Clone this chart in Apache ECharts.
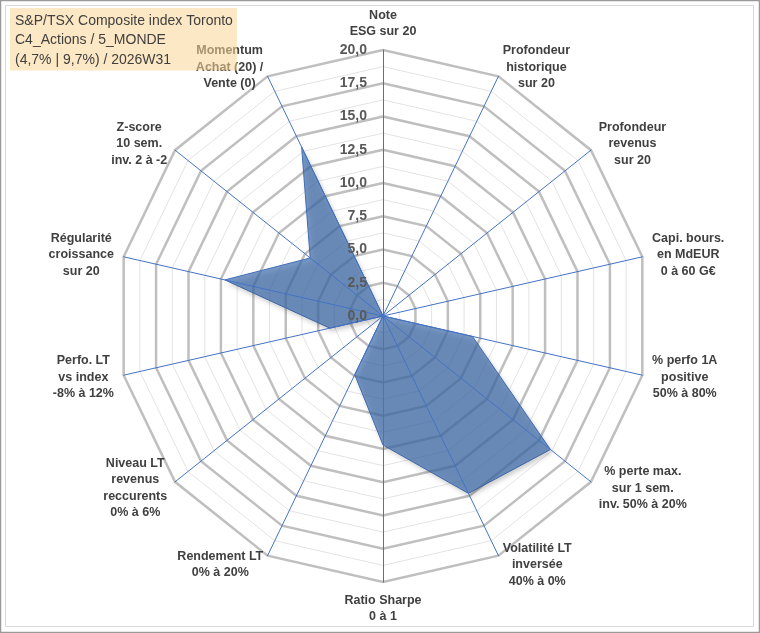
<!DOCTYPE html>
<html>
<head>
<meta charset="utf-8">
<script src="https://cdn.jsdelivr.net/npm/echarts@6/dist/echarts.min.js"></script>
<style>
  html, body { margin: 0; padding: 0; background: #fff; }
  #chart { width: 760px; height: 633px; }
</style>
</head>
<body>
<div id="chart"></div>
<script>
// axes listed clockwise starting from the top
const axisNames = [
    'Note\nESG sur 20',
    'Profondeur\nhistorique\nsur 20',
    'Profondeur\nrevenus\nsur 20',
    'Capi. bours.\nen MdEUR\n0 à 60 G€',
    '% perfo 1A\npositive\n50% à 80%',
    '% perte max.\nsur 1 sem.\ninv. 50% à 20%',
    'Volatilité LT\ninversée\n40% à 0%',
    'Ratio Sharpe\n0 à 1',
    'Rendement LT\n0% à 20%',
    'Niveau LT\nrevenus\nreccurents\n0% à 6%',
    'Perfo. LT\nvs index\n-8% à 12%',
    'Régularité\ncroissance\nsur 20',
    'Z-score\n10 sem.\ninv. 2 à -2',
    'Momentum\nAchat (20) /\nVente (0)'
];
const scores = [0, 0, 0, 0, 6.9, 16.1, 14.8, 9.7, 4.9, 0, 4.1, 12.2, 7.0, 14.1];
const axisMax = 20;
const majorSplits = 8;   // 2,5 steps
const minorSplits = 16;  // 1,25 steps
const titleLines = [
    'S&P/TSX Composite index Toronto',
    'C4_Actions / 5_MONDE',
    '(4,7% | 9,7%) / 2026W31'
];

// echarts walks the indicators counter-clockwise, so flip the order
let n = axisNames.length,
    order = axisNames.map((d, i) => (n - i) % n),
    names = order.map(i => axisNames[i]),
    values = order.map(i => scores[i]);

function indicators(withLabel) {
    return names.map((name, i) => {
        let ind = {name: name, min: 0, max: axisMax};
        if (withLabel && i === 0) ind.axisLabel = {show: true};
        return ind;
    });
}

let center = [383, 316], radius = 266;

let option = {
    animation: false,
    title: {
        text: titleLines.join('\n'),
        left: 10,
        top: 8,
        padding: [3, 4, 1, 5],
        backgroundColor: 'rgba(250,214,148,0.55)',
        z: 10,
        textStyle: {
            fontFamily: 'Liberation Sans',
            fontSize: 14,
            fontWeight: 'normal',
            color: '#404040',
            lineHeight: 19.5
        }
    },
    graphic: [
        {type: 'rect', shape: {x: 0.5, y: 0.5, width: 759, height: 632}, style: {fill: null, stroke: '#9a9a9a', lineWidth: 1.5}, silent: true},
        {type: 'rect', shape: {x: 5.5, y: 5.5, width: 748, height: 621}, style: {fill: null, stroke: '#d9d9d9', lineWidth: 1}, silent: true}
    ],
    radar: [
        {
            // thin rings
            center: center, radius: radius, startAngle: 90, shape: 'polygon',
            splitNumber: minorSplits, z: 1,
            indicator: indicators(false),
            axisName: {show: false},
            axisLine: {show: false},
            axisTick: {show: false},
            axisLabel: {show: false},
            splitArea: {show: false},
            splitLine: {lineStyle: {color: '#e3e3e3', width: 1}}
        },
        {
            // main rings, spokes and names
            center: center, radius: radius, startAngle: 90, shape: 'polygon',
            splitNumber: majorSplits, z: 2,
            indicator: indicators(false),
            nameGap: 10,
            axisName: {
                color: '#404040',
                fontFamily: 'Liberation Sans',
                fontWeight: 'bold',
                fontSize: 12.5,
                formatter: v => v.split('\n').map(l => '{c|' + l + '}').join('\n'),
                rich: {
                    c: {
                        align: 'center',
                        color: '#404040',
                        fontFamily: 'Liberation Sans',
                        fontWeight: 'bold',
                        fontSize: 12.5,
                        lineHeight: 16.5
                    }
                }
            },
            axisLine: {lineStyle: {color: '#4472c4', width: 1}},
            axisTick: {show: false},
            axisLabel: {show: false},
            splitArea: {show: false},
            splitLine: {lineStyle: {color: '#bfbfbf', width: 2.5}}
        },
        {
            // tick values on the top spoke
            center: center, radius: radius, startAngle: 90, shape: 'polygon',
            splitNumber: majorSplits, z: 5,
            indicator: indicators(true),
            axisName: {show: false},
            axisLine: {show: false},
            axisTick: {show: false},
            splitArea: {show: false},
            splitLine: {show: false},
            axisLabel: {
                show: false,
                margin: 16,
                color: '#595959',
                fontFamily: 'Liberation Sans',
                fontWeight: 'bold',
                fontSize: 14,
                formatter: v => v.toFixed(1).replace('.', ',')
            }
        }
    ],
    series: [{
        type: 'radar',
        radarIndex: 1,
        z: 2,
        symbol: 'none',
        lineStyle: {color: '#4472c4', width: 1},
        areaStyle: {
            color: '#3e6ead',
            opacity: 0.7,
            shadowBlur: 5,
            shadowColor: 'rgba(0,0,0,0.3)',
            shadowOffsetX: 2,
            shadowOffsetY: 3
        },
        data: [{value: values, name: 'Score'}]
    }]
};

echarts.init(document.getElementById('chart')).setOption(option);
</script>
</body>
</html>
